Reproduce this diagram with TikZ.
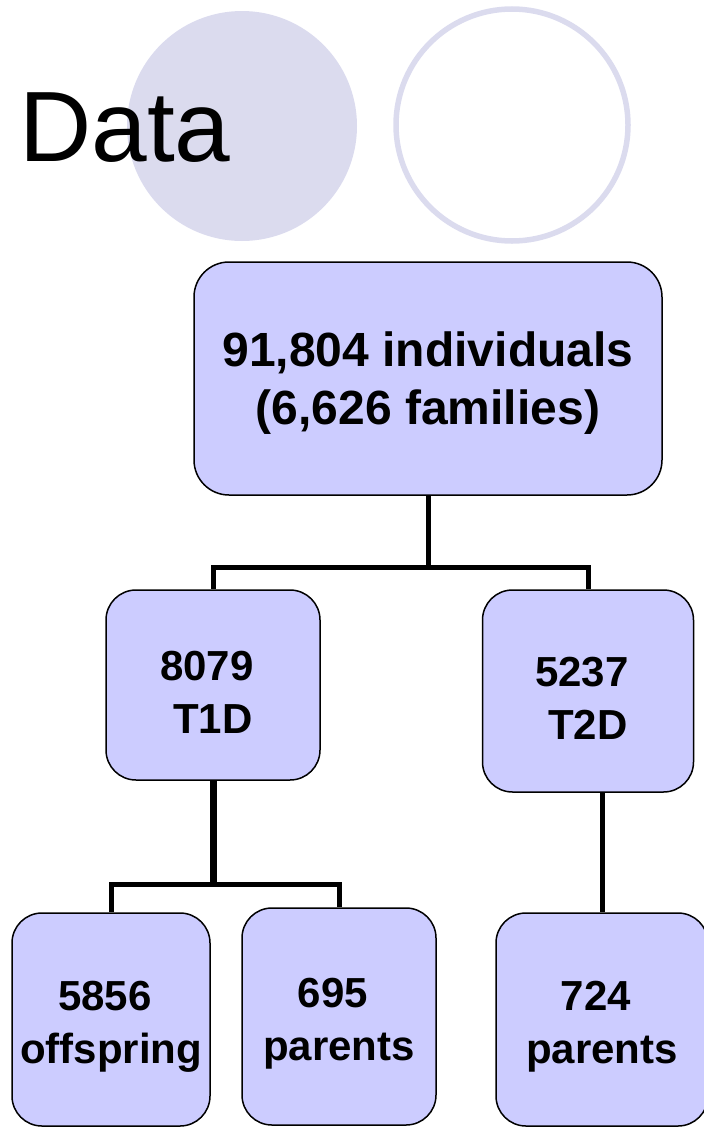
\documentclass[tikz,border=0pt]{standalone}
\usepackage{fontspec}
\setmainfont{Liberation Sans}
\usepackage{tikz}
\definecolor{boxblue}{RGB}{204,204,255}
\definecolor{lavender}{RGB}{219,219,238}
\newcommand{\tsp}{\hspace*{12pt}}
\newcommand{\tstrut}{\rule{0pt}{44pt}}
\tikzstyle{block} = [rectangle, rounded corners=30pt, minimum width=214pt, minimum height=190pt, text centered, align=center, draw=black, line width=1.5pt, fill=boxblue, font=\fontsize{42}{53}\selectfont\bfseries]
\tikzstyle{bigblock} = [block, rounded corners=35pt, minimum width=468pt, minimum height=233pt, font=\fontsize{48}{58}\selectfont\bfseries]
\tikzstyle{link} = [line width=5pt]
\tikzstyle{trunk} = [line width=7pt]

\begin{document}
\begin{tikzpicture}[x=1pt, y=-1pt, node distance=300pt]
        \useasboundingbox (0,0) rectangle (704,1127);
        \fill [lavender] (242,126) circle (115pt);
        \draw [lavender, line width=5.5pt] (512,125) circle (116pt);
        \node (title) [anchor=base west, inner sep=0pt, font=\fontsize{100}{100}\selectfont] at (19,161) {Data};

        \node (total) [bigblock] at (428,378.5) {\tstrut 91,804 individuals\\(6,626 families)};
        \node (t1d) [block, below of=total, xshift=-215pt, yshift=-6.5pt] {\tstrut 8079\tsp\\ T1D};
        \node (t2d) [block, below of=total, xshift=160pt, yshift=-12.5pt, minimum width=211pt, minimum height=202pt] {\tstrut 5237\tsp\\ T2D};
        \node (off1) [block, below of=t1d, xshift=-102pt, yshift=-34.5pt, minimum width=198pt, minimum height=213pt] {\tstrut 5856\tsp\\offspring};
        \node (par1) [block, below of=t1d, xshift=126pt, yshift=-31.5pt, minimum width=194pt, minimum height=217pt] {\tstrut 695\tsp\\parents};
        \node (par2) [block, below of=t2d, xshift=14pt, yshift=-28.5pt, minimum width=212pt, minimum height=213pt] {\tstrut 724\tsp\\parents};

        \draw [link] (total.south) -- ++(0pt,-72pt) coordinate (split1);
        \draw [link] (split1) -| (t1d.north);
        \draw [link] (split1) -| (t2d.north);
        \draw [trunk] (t1d.south) -- ++(0pt,-104pt) coordinate (split2);
        \draw [link] (split2) -| (off1.north);
        \draw [link] (split2) -| (par1.north);
        \draw [link] (t2d.south -| par2.north) -- (par2.north);
    \end{tikzpicture}
\end{document}
